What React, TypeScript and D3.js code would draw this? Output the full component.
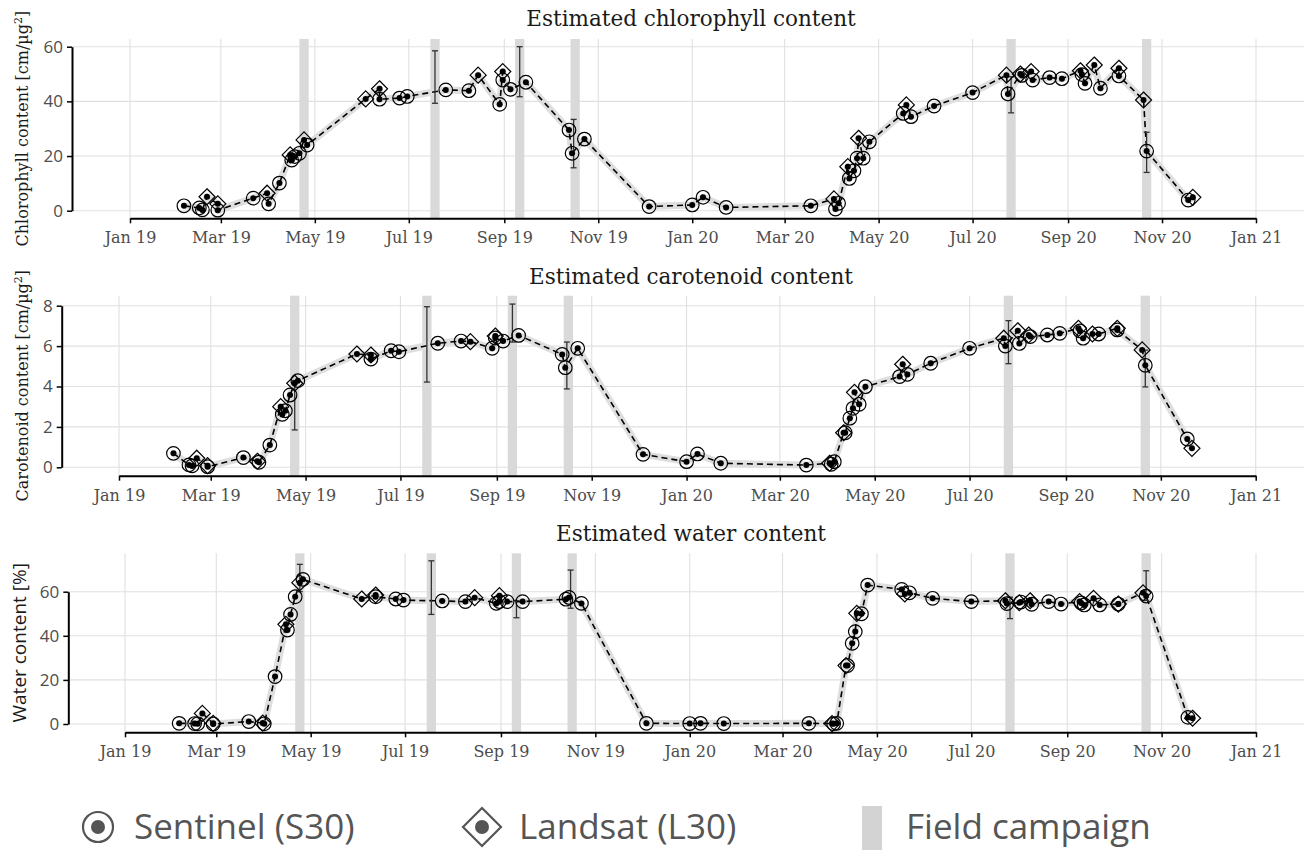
import { useRef, useEffect } from "react";
import * as d3 from "d3";

// observation dates (HLS), sensor and estimated values
const obsDates = [
  "2019-02-05", "2019-02-15", "2019-02-17", "2019-02-20", "2019-02-27", "2019-02-27",
  "2019-03-22", "2019-03-31", "2019-04-01", "2019-04-08", "2019-04-15", "2019-04-16",
  "2019-04-18", "2019-04-21", "2019-04-24", "2019-04-26", "2019-06-03", "2019-06-12",
  "2019-06-12", "2019-06-25", "2019-06-30", "2019-07-25", "2019-08-09", "2019-08-15",
  "2019-08-29", "2019-08-31", "2019-08-31", "2019-09-05", "2019-09-15", "2019-10-13",
  "2019-10-15", "2019-10-23", "2019-12-04", "2020-01-01", "2020-01-08", "2020-01-23",
  "2020-03-18", "2020-04-02", "2020-04-03", "2020-04-05", "2020-04-11", "2020-04-12",
  "2020-04-15", "2020-04-17", "2020-04-18", "2020-04-21", "2020-04-25", "2020-05-17",
  "2020-05-19", "2020-05-22", "2020-06-06", "2020-07-01", "2020-07-23", "2020-07-24",
  "2020-08-01", "2020-08-02", "2020-08-08", "2020-08-09", "2020-08-20", "2020-08-28",
  "2020-09-09", "2020-09-10", "2020-09-12", "2020-09-18", "2020-09-22", "2020-10-04",
  "2020-10-04", "2020-10-20", "2020-10-22", "2020-11-18", "2020-11-21",
];
const obsSensor = [
  "S", "S", "S", "L", "L", "S",
  "S", "L", "S", "S", "L", "S",
  "S", "S", "L", "S", "L", "L",
  "S", "S", "S", "S", "S", "L",
  "S", "L", "S", "S", "S", "S",
  "S", "S", "S", "S", "S", "S",
  "S", "L", "S", "S", "L", "S",
  "S", "S", "L", "S", "S", "S",
  "L", "S", "S", "S", "L", "S",
  "L", "S", "L", "S", "S", "S",
  "L", "S", "S", "L", "S", "L",
  "S", "L", "S", "S", "L",
];
const chlValues = [
  1.8, 1.0, 0.3, 5.1, 2.5, 0.2,
  4.6, 6.4, 2.5, 10.1, 20.4, 18.5,
  19.8, 21.0, 25.9, 24.0, 40.9, 44.6,
  40.8, 41.2, 41.8, 44.2, 43.9, 49.6,
  38.9, 50.9, 47.8, 44.4, 47.0, 29.5,
  21.0, 26.2, 1.5, 2.1, 4.9, 1.2,
  1.8, 4.3, 0.6, 2.7, 16.1, 11.8,
  14.6, 19.2, 26.5, 19.2, 25.2, 35.6,
  38.7, 34.4, 38.3, 43.2, 49.6, 42.7,
  50.0, 49.5, 50.9, 47.8, 48.7, 48.3,
  51.2, 49.8, 46.6, 53.3, 44.8, 52.1,
  49.3, 40.5, 21.8, 3.9, 4.9,
];
const carValues = [
  0.69, 0.12, 0.07, 0.45, 0.08, 0.03,
  0.48, 0.3, 0.25, 1.1, 3.0, 2.62,
  2.8, 3.58, 4.16, 4.29, 5.61, 5.56,
  5.36, 5.77, 5.72, 6.14, 6.25, 6.22,
  5.89, 6.5, 6.4, 6.25, 6.53, 5.59,
  4.93, 5.89, 0.64, 0.28, 0.66, 0.2,
  0.11, 0.2, 0.15, 0.28, 1.71, 1.71,
  2.43, 2.92, 3.71, 3.12, 3.99, 4.49,
  5.1, 4.6, 5.15, 5.89, 6.39, 6.0,
  6.76, 6.13, 6.55, 6.47, 6.55, 6.63,
  6.88, 6.75, 6.39, 6.6, 6.6, 6.88,
  6.8, 5.81, 5.05, 1.4, 0.94,
];
const watValues = [
  0.3, 0.2, 0.1, 4.8, 0.3, 0.0,
  1.1, 0.4, 0.1, 21.5, 45.2, 42.6,
  49.7, 57.7, 64.1, 65.6, 56.7, 58.5,
  57.7, 56.7, 56.2, 55.8, 55.5, 57.3,
  54.7, 58.2, 55.5, 55.5, 55.5, 56.6,
  57.4, 54.7, 0.3, 0.2, 0.3, 0.2,
  0.3, 0.2, 0.1, 0.3, 26.5, 26.5,
  36.6, 41.9, 50.2, 50.0, 63.0, 61.0,
  59.0, 59.5, 57.0, 55.5, 55.9, 54.6,
  55.0, 55.3, 55.9, 54.3, 55.5, 54.4,
  55.5, 54.9, 54.0, 57.0, 54.0, 54.4,
  54.4, 59.5, 58.0, 3.0, 2.6,
];

// field campaigns
const campaignStart = ["2019-04-21", "2019-07-15", "2019-09-08", "2019-10-14", "2020-07-23", "2020-10-19"];
const campaignEnd = ["2019-04-27", "2019-07-21", "2019-09-14", "2019-10-20", "2020-07-29", "2020-10-25"];
const campaignMid = ["2019-04-24", "2019-07-18", "2019-09-11", "2019-10-16", "2020-07-26", "2020-10-22"];
const chlLow = [null, 39.3, 41.7, 15.7, 35.8, 14.0];
const chlHigh = [null, 58.5, 60.0, 33.4, 49.0, 28.7];
const carLow = [1.85, 4.22, 6.2, 3.88, 5.13, 3.98];
const carHigh = [4.3, 7.95, 8.08, 6.2, 7.26, 5.8];
const watLow = [60.0, 49.7, 48.2, 52.5, 47.8, 56.0];
const watHigh = [72.4, 74.0, 56.0, 69.8, 57.5, 69.5];

const xTicks = [
  "2019-01-01", "2019-03-01", "2019-05-01", "2019-07-01", "2019-09-01", "2019-11-01", "2020-01-01",
  "2020-03-01", "2020-05-01", "2020-07-01", "2020-09-01", "2020-11-01", "2021-01-01",
];
const chlTicks = [0, 20, 40, 60];
const carTicks = [0, 2, 4, 6, 8];
const watTicks = [0, 20, 40, 60];

const serif = "'DejaVu Serif', serif";
const sans = "'Open Sans', sans-serif";

const panels = [
  {
    title: "Estimated chlorophyll content", label: "Chlorophyll content [cm/µg", sup: true, labelFont: serif,
    values: chlValues, lo: chlLow, hi: chlHigh, ticks: chlTicks,
    left: 72, top: 39, axisY: 218.3, xStart: 130, xEnd: 1256, y0: 210.7, yMax: 46.7, titleY: 26, labelX: 28,
  },
  {
    title: "Estimated carotenoid content", label: "Carotenoid content [cm/µg", sup: true, labelFont: serif,
    values: carValues, lo: carLow, hi: carHigh, ticks: carTicks,
    left: 61.7, top: 295.7, axisY: 475.7, xStart: 119, xEnd: 1255.7, y0: 467.3, yMax: 305.7, titleY: 284, labelX: 28,
  },
  {
    title: "Estimated water content", label: "Water content [%]", sup: false, labelFont: sans,
    values: watValues, lo: watLow, hi: watHigh, ticks: watTicks,
    left: 68.3, top: 553.3, axisY: 732.3, xStart: 125, xEnd: 1256, y0: 724, yMax: 591.7, titleY: 541, labelX: 26,
  },
];

function App() {
  const ref = useRef<SVGSVGElement | null>(null);

  useEffect(() => {
    if (!ref.current) return;
    const svg = d3.select(ref.current).html("");
    const parse = d3.timeParse("%Y-%m-%d");
    const fmt = d3.timeFormat("%b %y");
    const dates = obsDates.map((d) => parse(d) as Date);
    const tickDates = xTicks.map((d) => parse(d) as Date);

    panels.forEach((p) => {
      const x = d3
        .scaleTime()
        .domain([tickDates[0], tickDates[tickDates.length - 1]])
        .range([p.xStart, p.xEnd]);
      const y = d3
        .scaleLinear()
        .domain([0, p.ticks[p.ticks.length - 1]])
        .range([p.y0, p.yMax]);
      const g = svg.append("g");

      // grid
      g.selectAll(".hgrid")
        .data(p.ticks)
        .enter()
        .append("line")
        .attr("x1", p.left)
        .attr("x2", 1304)
        .attr("y1", (d) => y(d))
        .attr("y2", (d) => y(d))
        .attr("stroke", "#e0e0e0")
        .attr("stroke-width", 1.1);
      g.selectAll(".vgrid")
        .data(tickDates)
        .enter()
        .append("line")
        .attr("x1", (d) => x(d))
        .attr("x2", (d) => x(d))
        .attr("y1", p.top)
        .attr("y2", p.axisY)
        .attr("stroke", "#e0e0e0")
        .attr("stroke-width", 1.1);

      // field campaigns
      g.selectAll(".camp")
        .data(campaignStart)
        .enter()
        .append("rect")
        .attr("x", (d) => x(parse(d) as Date))
        .attr("width", (d, i) => x(parse(campaignEnd[i]) as Date) - x(parse(d) as Date))
        .attr("y", p.top)
        .attr("height", p.axisY - p.top)
        .attr("fill", "#d9d9d9");

      const pts = dates.map((d, i) => ({ date: d, v: p.values[i], s: obsSensor[i] }));
      const line = d3
        .line<any>()
        .x((d) => x(d.date))
        .y((d) => y(d.v));

      // light ribbon behind the line
      g.append("path")
        .datum(pts)
        .attr("fill", "none")
        .attr("stroke", "#dedede")
        .attr("stroke-width", 7)
        .attr("stroke-linejoin", "round")
        .attr("d", line as any);

      // dashed line
      g.append("path")
        .datum(pts)
        .attr("fill", "none")
        .attr("stroke", "#000")
        .attr("stroke-width", 1.6)
        .attr("stroke-dasharray", "6,4")
        .attr("d", line as any);

      // error bars
      const eb = campaignMid
        .map((d, i) => ({ date: parse(d) as Date, lo: p.lo[i], hi: p.hi[i] }))
        .filter((d) => d.lo != null);
      const ebg = g.selectAll(".eb").data(eb).enter().append("g").attr("stroke", "#333").attr("stroke-width", 1.3);
      ebg.append("line")
        .attr("x1", (d) => x(d.date))
        .attr("x2", (d) => x(d.date))
        .attr("y1", (d) => y(d.lo as number))
        .attr("y2", (d) => y(d.hi as number));
      ebg.append("line")
        .attr("x1", (d) => x(d.date) - 3)
        .attr("x2", (d) => x(d.date) + 3)
        .attr("y1", (d) => y(d.lo as number))
        .attr("y2", (d) => y(d.lo as number));
      ebg.append("line")
        .attr("x1", (d) => x(d.date) - 3)
        .attr("x2", (d) => x(d.date) + 3)
        .attr("y1", (d) => y(d.hi as number))
        .attr("y2", (d) => y(d.hi as number));

      // markers
      g.selectAll(".s30")
        .data(pts.filter((d) => d.s === "S"))
        .enter()
        .append("circle")
        .attr("cx", (d) => x(d.date))
        .attr("cy", (d) => y(d.v))
        .attr("r", 6.8)
        .attr("fill", "none")
        .attr("stroke", "#000")
        .attr("stroke-width", 1.2);
      g.selectAll(".l30")
        .data(pts.filter((d) => d.s === "L"))
        .enter()
        .append("path")
        .attr("transform", (d) => `translate(${x(d.date)},${y(d.v)})`)
        .attr("d", "M0,-8L8,0L0,8L-8,0Z")
        .attr("fill", "none")
        .attr("stroke", "#000")
        .attr("stroke-width", 1.2);
      g.selectAll(".dot")
        .data(pts)
        .enter()
        .append("circle")
        .attr("cx", (d) => x(d.date))
        .attr("cy", (d) => y(d.v))
        .attr("r", 3)
        .attr("fill", "#000");

      // axes
      const xa = g
        .append("g")
        .attr("transform", `translate(0,${p.axisY})`)
        .call(
          d3
            .axisBottom(x)
            .tickValues(tickDates)
            .tickFormat((d: any) => fmt(d))
            .tickSize(5)
            .tickSizeOuter(0)
        );
      xa.select(".domain").attr("stroke", "#000").attr("stroke-width", 2);
      xa.selectAll(".tick line").attr("stroke", "#000").attr("stroke-width", 1.5);
      xa.selectAll(".tick text")
        .attr("y", 25)
        .attr("dy", null)
        .attr("fill", "#4d4d4d")
        .style("font-family", serif)
        .style("font-size", "16px");

      const ya = g
        .append("g")
        .attr("transform", `translate(${p.left},0)`)
        .call(d3.axisLeft(y).tickValues(p.ticks).tickSize(5).tickSizeOuter(0));
      ya.select(".domain").attr("stroke", "#000").attr("stroke-width", 2);
      ya.selectAll(".tick line").attr("stroke", "#000").attr("stroke-width", 1.5);
      ya.selectAll(".tick text")
        .attr("x", -9)
        .attr("fill", "#4d4d4d")
        .style("font-family", sans)
        .style("font-size", "17px");

      // title
      g.append("text")
        .attr("x", 691)
        .attr("y", p.titleY)
        .attr("text-anchor", "middle")
        .attr("fill", "#1a1a1a")
        .style("font-family", serif)
        .style("font-size", "21.5px")
        .text(p.title);

      // y label
      const lab = g
        .append("text")
        .attr("transform", `translate(${p.labelX},${(p.top + p.axisY) / 2}) rotate(-90)`)
        .attr("text-anchor", "middle")
        .attr("fill", "#1a1a1a")
        .style("font-family", p.labelFont)
        .style("font-size", p.sup ? "16px" : "19px");
      lab.append("tspan").text(p.label);
      if (p.sup) {
        lab.append("tspan").attr("dy", -6).style("font-size", "11px").text("2");
        lab.append("tspan").attr("dy", 6).text("]");
      }
    });

    // legend
    const lg = svg.append("g");
    lg.append("circle").attr("cx", 98).attr("cy", 827).attr("r", 15).attr("fill", "none").attr("stroke", "#555").attr("stroke-width", 2.2);
    lg.append("circle").attr("cx", 98).attr("cy", 827).attr("r", 7).attr("fill", "#555");
    lg.append("path")
      .attr("transform", "translate(482,827)")
      .attr("d", "M0,-19L19,0L0,19L-19,0Z")
      .attr("fill", "none")
      .attr("stroke", "#555")
      .attr("stroke-width", 2.2);
    lg.append("circle").attr("cx", 482).attr("cy", 827).attr("r", 7).attr("fill", "#555");
    lg.append("rect").attr("x", 862).attr("y", 806).attr("width", 20).attr("height", 44).attr("fill", "#d3d3d3");
    const legTexts = [
      { x: 134, t: "Sentinel (S30)" },
      { x: 519, t: "Landsat (L30)" },
      { x: 906, t: "Field campaign" },
    ];
    lg.selectAll(".lt")
      .data(legTexts)
      .enter()
      .append("text")
      .attr("x", (d) => d.x)
      .attr("y", 839)
      .attr("fill", "#555")
      .style("font-family", sans)
      .style("font-size", "35px")
      .text((d) => d.t);
  }, []);

  return (
    <svg
      ref={ref}
      width={1304}
      height={852}
      style={{ position: "absolute", left: 0, top: 0, background: "#fff" }}
    ></svg>
  );
}

export default App;
